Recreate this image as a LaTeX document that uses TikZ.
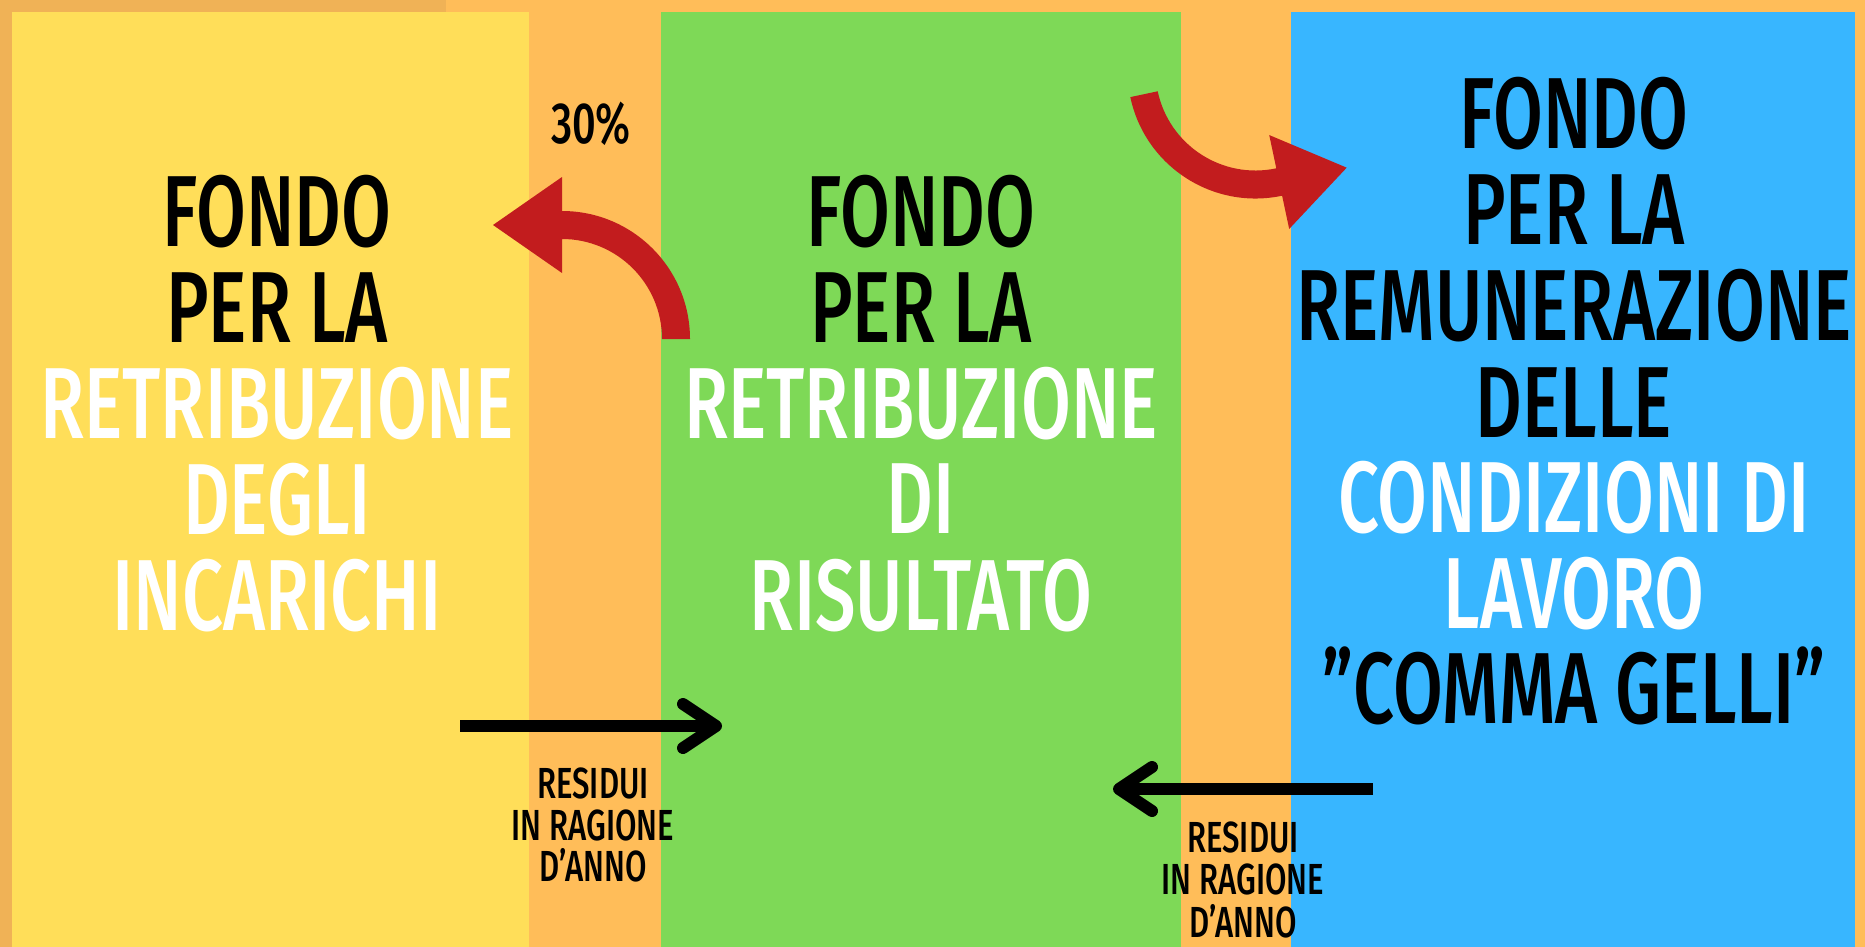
\documentclass[tikz,border=0pt]{standalone}
\usepackage{fontspec}
\usetikzlibrary{calc}
\IfFontExistsTF{Fira Sans Medium}
  {\newfontfamily\cfam{Fira Sans Medium}[FakeStretch=0.715]\newcommand\cfw{\cfam}}
  {\IfFontExistsTF{Fira Sans SemiBold}
    {\newfontfamily\cfam{Fira Sans SemiBold}[FakeStretch=0.705]\newcommand\cfw{\cfam}}
    {\newfontfamily\cfam{Fira Sans}[FakeStretch=0.69]\newcommand\cfw{\cfam\bfseries}}}
\definecolor{bgor}{RGB}{255,189,89}
\definecolor{dkor}{RGB}{240,178,86}
\definecolor{yel}{RGB}{255,222,89}
\definecolor{grn}{RGB}{126,217,87}
\definecolor{blu}{RGB}{56,182,255}
\definecolor{arrred}{RGB}{194,28,30}
\tikzset{
  panel/.style={draw=none, inner sep=0pt, outer sep=0pt, anchor=north west, minimum height=935pt},
  big/.style={font=\cfw\fontsize{101}{96}\selectfont, inner sep=0pt, anchor=base},
  small/.style={font=\cfw\fontsize{43.5}{42}\selectfont, inner sep=0pt, anchor=base, text=black},
  pct/.style={font=\cfw\fontsize{58}{58}\selectfont, inner sep=0pt, anchor=base, text=black},
  redarrow/.style={fill=arrred, draw=none},
  shaft/.style={draw=black, line width=12pt, line cap=butt},
  chevron/.style={draw=black, line width=12pt, line cap=round, line join=round}
}
\begin{document}
\begin{tikzpicture}[x=1pt,y=1pt]
\useasboundingbox (0,0) rectangle (1865,-947);
% background
\fill[bgor] (0,0) rectangle (1865,-947);
\fill[dkor] (0,0) rectangle (446,-12);
\fill[dkor] (0,0) rectangle (12,-947);
% panels
\node[panel, fill=yel, minimum width=517pt] (py) at (12,-12) {};
\node[panel, fill=grn, minimum width=520pt] (pg) at (661,-12) {};
\node[panel, fill=blu, minimum width=564pt] (pb) at (1291,-12) {};
% yellow panel text
\node[big, text=black] (y1) at (277,-246) {FONDO};
\node[big, text=black] (y2) at (277,-342) {PER LA};
\node[big, text=white] (y3) at (277,-438) {RETRIBUZIONE};
\node[big, text=white] (y4) at (277,-534) {DEGLI};
\node[big, text=white] (y5) at (277,-630) {INCARICHI};
% green panel text
\node[big, text=black] (g1) at (921,-246) {FONDO};
\node[big, text=black] (g2) at (921,-342) {PER LA};
\node[big, text=white] (g3) at (921,-438) {RETRIBUZIONE};
\node[big, text=white] (g4) at (921,-533) {DI};
\node[big, text=white] (g5) at (921,-630) {RISULTATO};
% blue panel text
\node[big, text=black] (b1) at (1574,-148) {FONDO};
\node[big, text=black] (b2) at (1574,-244) {PER LA};
\node[big, text=black] (b3) at (1574,-340) {REMUNERAZIONE};
\node[big, text=black] (b4) at (1574,-437) {DELLE};
\node[big, text=white] (b5) at (1574,-532) {CONDIZIONI DI};
\node[big, text=white] (b6) at (1574,-628) {LAVORO};
\node[big, text=black] (b7) at (1574,-723) {”COMMA GELLI”};
% small labels
\node[pct] (p30) at (591,-143) {30\%};
\node[small] (r1a) at (593,-798) {RESIDUI};
\node[small] (r1b) at (593,-840) {IN RAGIONE};
\node[small] (r1c) at (593,-881) {D’ANNO};
\node[small] (r2a) at (1243,-852) {RESIDUI};
\node[small] (r2b) at (1243,-894) {IN RAGIONE};
\node[small] (r2c) at (1243,-937) {D’ANNO};
% red curved arrows
\coordinate (c1) at (562,-339);
\coordinate (c2) at (1255.5,-70.5);
\fill[redarrow, shift={(c1)}] (128,0) arc[start angle=0, end angle=90, radius=128]
  -- (0,162) -- (-69,114) -- (0,66) -- (0,100)
  arc[start angle=90, end angle=0, radius=100] -- cycle;
\fill[redarrow, shift={(c2)}, rotate=192] (128,0) arc[start angle=0, end angle=90, radius=128]
  -- (0,162) -- (-69,114) -- (0,66) -- (0,100)
  arc[start angle=90, end angle=0, radius=100] -- cycle;
% black arrows
\coordinate (k1s) at (460,-726);
\coordinate (k1e) at (716,-726);
\draw[shaft] (k1s) -- (k1e);
\draw[chevron] ($(k1e)+(-33,22)$) -- (k1e) -- ($(k1e)+(-33,-22)$);
\coordinate (k2s) at (1373,-789);
\coordinate (k2e) at (1119,-789);
\draw[shaft] (k2s) -- (k2e);
\draw[chevron] ($(k2e)+(33,22)$) -- (k2e) -- ($(k2e)+(33,-22)$);
\end{tikzpicture}
\end{document}
